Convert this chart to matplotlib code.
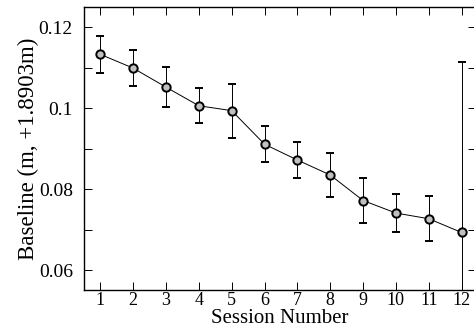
import numpy as np
import matplotlib
matplotlib.use("Agg")
import matplotlib.pyplot as plt
from matplotlib.ticker import MultipleLocator

session = [1, 2, 3, 4, 5, 6, 7, 8, 9, 10, 11, 12]
baseline = [0.1133, 0.1099, 0.1052, 0.1006, 0.0994, 0.0911,
            0.0872, 0.0835, 0.0772, 0.0741, 0.0727, 0.0693]
err = [0.0045, 0.0045, 0.0049, 0.0043, 0.0067, 0.0045,
       0.0045, 0.0054, 0.0055, 0.0048, 0.0055, 0.0420]

plt.rcParams['font.family'] = ['Liberation Serif', 'DejaVu Serif']

fig = plt.figure(figsize=(4.74, 3.33), dpi=100)
ax = fig.add_axes([0.177, 0.128, 0.828, 0.851])

ax.errorbar(session, baseline, yerr=err, fmt='-o', color='black', lw=0.7,
            elinewidth=0.7, capsize=3, capthick=0.7,
            marker='o', markersize=6, markerfacecolor='#c0c0c0',
            markeredgecolor='black', markeredgewidth=1.4)

ax.set_xlim(0.5, 12.45)
ax.set_ylim(0.055, 0.125)
ax.set_xticks(session)
ax.set_yticks([0.06, 0.08, 0.1, 0.12])
ax.set_yticklabels(['0.06', '0.08', '0.1', '0.12'])
ax.yaxis.set_minor_locator(MultipleLocator(0.01))

ax.tick_params(which='both', direction='in', top=True, right=True, width=0.7)
ax.tick_params(which='major', length=6)
ax.tick_params(which='minor', length=6)
ax.tick_params(axis='x', labelsize=13, pad=1)
ax.tick_params(axis='y', labelsize=14, pad=8)

for s in ax.spines.values():
    s.set_linewidth(1.0)

ax.set_xlabel("Session Number", size=15, labelpad=0)
ax.set_ylabel("Baseline (m, +1.8903m)", size=16.5, labelpad=0)

fig.savefig('out.png', dpi=100)
